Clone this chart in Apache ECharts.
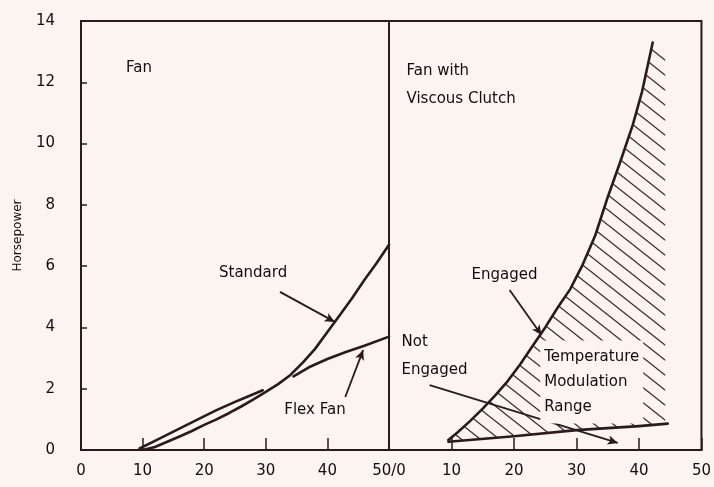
<!DOCTYPE html>
<html><head><meta charset="utf-8">
<script src="https://cdn.jsdelivr.net/npm/echarts@6/dist/echarts.min.js"></script>
<style>html,body{margin:0;padding:0;background:#fbf4f0}#c{width:714px;height:487px}</style>
</head><body><div id="c"></div>
<script>
// ---- data ----
const xMin = 0, xMax = 50, xStep = 10;
const yMin = 0, yMax = 14, yStep = 2;
const yAxisTitle = 'Horsepower';
// Left panel: Fan
const standard = [[10,0],[12,0.1],[14,0.27],[16,0.44],[18,0.62],[20,0.82],[22,1.0],[24,1.2],[26,1.42],[28,1.65],[30,1.9],[32,2.15],[34,2.45],[36,2.85],[38,3.3],[40,3.85],[42,4.4],[44,4.95],[46,5.55],[48,6.1],[50,6.7]];
const flexFanLow = [[9.5,0.05],[12,0.3],[15,0.6],[19.3,1.03],[22,1.3],[25,1.57],[27,1.74],[29.5,1.95]];
const flexFanHigh = [[34.5,2.4],[37,2.7],[40,2.97],[43,3.2],[46,3.4],[50,3.7]];
// Right panel: Fan with viscous clutch
const engaged = [[9.5,0.33],[11,0.58],[13,0.95],[15,1.35],[17,1.78],[19,2.25],[21,2.8],[23,3.4],[25,4.0],[27,4.65],[29,5.25],[31,6.05],[33,7.0],[35,8.25],[37,9.4],[39,10.6],[40.5,11.7],[42.2,13.3]];
const notEngaged = [[9.5,0.27],[20,0.45],[30,0.65],[40,0.78],[44.6,0.86]];
const hatchEdge = [[44.2,12.9],[44.2,0.85]];
// Annotations
const leftLabels = [[7.3,12.47,'Fan'],[22.4,5.77,'Standard'],[33.0,1.3,'Flex Fan']];
const rightLabels = [[2.8,11.91,'Fan with\nViscous Clutch'],[13.2,5.71,'Engaged'],[2.0,3.05,'Not\nEngaged']];
const rangeLabel = [[24.2,2.22,'Temperature\nModulation\nRange']];
const leftArrows = [[[32.3,5.16],[41.2,4.18]],[[42.9,1.73],[45.8,3.26]]];
const rightArrows = [[[19.3,5.22],[24.4,3.75]],[[6.5,2.12],[36.6,0.23]]];

// ---- styling ----
const INK = '#2a1a1c';
const TXT = '#140c0e';
const BG = '#fbf4f0';
const FONT = 'DejaVu Sans';

function hatchPattern(){
  const W = 19, H = 15;
  const c = document.createElement('canvas'); c.width = W; c.height = H;
  const g = c.getContext('2d');
  g.strokeStyle = '#3a2a2c'; g.lineWidth = 1.3;
  [[0,0],[-W,0],[W,0],[0,-H],[0,H]].forEach(([dx,dy]) => {
    g.beginPath(); g.moveTo(dx,dy); g.lineTo(dx+W,dy+H); g.stroke();
  });
  return c;
}
const pat = hatchPattern();

function xAxis(gi, fmt){
  return {
    gridIndex: gi, type:'value', min:xMin, max:xMax, interval:xStep,
    axisLine:{show:true, onZero:false, lineStyle:{color:INK, width:2}},
    axisTick:{show:true, inside:true, length:12, lineStyle:{color:INK, width:1.5}},
    axisLabel:{color:TXT, fontSize:15, fontFamily:FONT, margin:14, formatter:fmt},
    splitLine:{show:false}
  };
}
function yAxis(gi, show){
  return {
    gridIndex: gi, type:'value', min:yMin, max:yMax, interval:yStep,
    name: show ? yAxisTitle : '', nameLocation:'middle', nameGap:57,
    nameTextStyle:{color:TXT, fontSize:12, fontFamily:FONT},
    axisLine:{show:show, lineStyle:{color:INK, width:2}},
    axisTick:{show:show, inside:true, length:6, lineStyle:{color:INK, width:1.5}},
    axisLabel:{show:show, color:TXT, fontSize:15, fontFamily:FONT, margin:26},
    splitLine:{show:false}
  };
}
function curve(name, data, gi){
  return {name, type:'line', xAxisIndex:gi, yAxisIndex:gi, data, smooth:false,
    showSymbol:false, symbol:'none', silent:true, z:5,
    lineStyle:{color:INK, width:2.6, join:'round', cap:'round'}};
}
function labels(data, gi, extra){
  return {type:'scatter', xAxisIndex:gi, yAxisIndex:gi, symbolSize:0, silent:true, z:10,
    itemStyle:{opacity:1},
    data: data.map(d => ({value:[d[0],d[1]], name:d[2]})),
    label:Object.assign({show:true, position:'right', distance:0, formatter:p=>p.name, opacity:1,
      color:TXT, fontSize:15, fontFamily:FONT, lineHeight:28}, extra||{})};
}
function arrows(arr){
  return {silent:true, symbol:['none','arrow'], symbolSize:[7,10], animation:false,
    label:{show:false}, lineStyle:{color:INK, width:1.8, type:'solid', opacity:1},
    data: arr.map(a => [{coord:a[0]},{coord:a[1]}])};
}

const chart = echarts.init(document.getElementById('c'), null, {renderer:'canvas'});
const leftLab = labels(leftLabels, 0); leftLab.markLine = arrows(leftArrows);
const rightLab = labels(rightLabels, 1); rightLab.markLine = arrows(rightArrows);
chart.setOption({
  backgroundColor: BG,
  animation:false,
  grid:[
    {left:81, top:21, width:308, bottom:37, show:true, borderColor:INK, borderWidth:2, containLabel:false},
    {left:389, top:21, width:313, bottom:37, show:true, borderColor:INK, borderWidth:2, containLabel:false}
  ],
  xAxis:[ xAxis(0, v => v===50 ? '50/0' : String(v)), xAxis(1, v => v===0 ? '' : String(v)) ],
  yAxis:[ yAxis(0, true), yAxis(1, false) ],
  series:[
    {type:'custom', xAxisIndex:1, yAxisIndex:1, data:[[0,0]], silent:true, z:2,
      renderItem:(p, api) => {
        const pts = engaged.concat(hatchEdge, notEngaged.slice().reverse()).map(d => api.coord(d));
        return {type:'polygon', shape:{points:pts}, style:{fill:{image:pat, repeat:'repeat'}, stroke:null}};
      }},
    curve('Standard', standard, 0),
    curve('Flex Fan', flexFanLow, 0),
    curve('Flex Fan', flexFanHigh, 0),
    curve('Engaged', engaged, 1),
    curve('Not Engaged', notEngaged, 1),
    leftLab,
    rightLab,
    labels(rangeLabel, 1, {backgroundColor:BG, padding:[4,4,4,4], lineHeight:25})
  ]
});
</script></body></html>
